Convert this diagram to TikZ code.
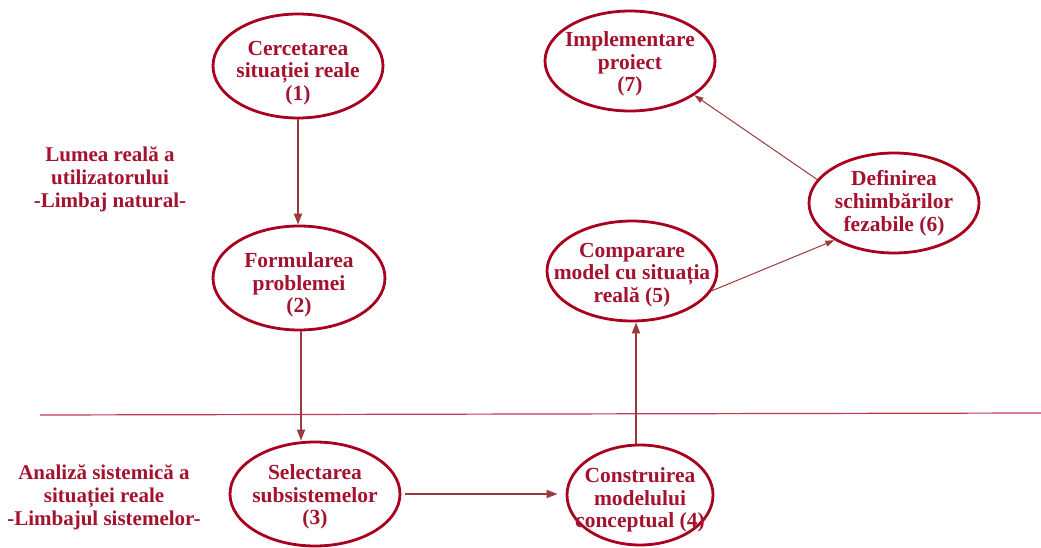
\documentclass[tikz,border=0pt]{standalone}
\usepackage{fontspec}
\setmainfont{Liberation Serif}
\usetikzlibrary{shapes.geometric,arrows.meta,positioning}
\definecolor{rosu}{HTML}{A8001E}
\definecolor{textrosu}{HTML}{A3122E}
\definecolor{sageatarosu}{HTML}{9A3A3C}
\definecolor{liniarosu}{HTML}{C23A50}
\begin{document}
\begin{tikzpicture}[x=1pt,y=-1pt,
    etapa/.style={ellipse, draw=rosu, line width=2.8pt, inner sep=0pt},
    textetapa/.style={align=center, inner sep=0pt, text=textrosu, font=\fontsize{21.5}{22.8}\selectfont\bfseries},
    eticheta/.style={align=center, text=textrosu, font=\fontsize{21}{23}\selectfont\bfseries},
    sageata/.style={draw=sageatarosu, line width=1.8pt, -{Triangle[length=11pt,width=8pt]}},
    sageatasubtire/.style={draw=sageatarosu, line width=1pt, -{Triangle[length=9pt,width=6pt]}}]
  \useasboundingbox (0,0) rectangle (1041,548);

  \node[etapa, minimum width=170pt, minimum height=104pt] (cercetare) at (298,66) {};
  \node[etapa, minimum width=172pt, minimum height=104pt] (formulare) at (299,278) {};
  \node[etapa, minimum width=170pt, minimum height=104pt] (selectare) at (315,494) {};
  \node[etapa, minimum width=146pt, minimum height=100pt] (construire) at (640,495) {};
  \node[etapa, minimum width=170pt, minimum height=100pt] (comparare) at (632,271) {};
  \node[etapa, minimum width=170pt, minimum height=100pt] (definire) at (894,203) {};
  \node[etapa, minimum width=170pt, minimum height=100pt] (implementare) at (630,61) {};

  \node[textetapa, yshift=-7pt] (cercetare-text) at (cercetare) {Cercetarea\\situației reale\\(1)};
  \node[textetapa, yshift=-7pt] (formulare-text) at (formulare) {Formularea\\problemei\\(2)};
  \node[textetapa, yshift=-3pt] (selectare-text) at (selectare) {Selectarea\\subsistemelor\\(3)};
  \node[textetapa, yshift=-5pt] (construire-text) at (construire) {Construirea\\modelului\\conceptual (4)};
  \node[textetapa, yshift=-4pt] (comparare-text) at (comparare) {Comparare\\model cu situația\\reală (5)};
  \node[textetapa] (definire-text) at (definire) {Definirea\\schimbărilor\\fezabile (6)};
  \node[textetapa, yshift=-3pt] (implementare-text) at (implementare) {Implementare\\proiect\\(7)};

  \node[eticheta] (lumea) at (110,179) {Lumea reală a\\utilizatorului\\-Limbaj natural-};
  \node[eticheta] (analiza) at (104,497) {Analiză sistemică a\\situației reale\\-Limbajul sistemelor-};

  \coordinate (linie-st) at (40,415);
  \coordinate (linie-dr) at (1041,413);
  \draw[liniarosu, line width=1.2pt] (linie-st) -- (linie-dr);

  \draw[sageata] (cercetare.south) -- (cercetare.south |- formulare.north);
  \draw[sageata] ([xshift=2pt]formulare.south) -- ([xshift=2pt]formulare.south |- selectare.north);
  \draw[sageata, shorten <=4pt, shorten >=8pt] (selectare.east) -- (selectare.east -| construire.west);
  \draw[sageata] ([xshift=-4pt]construire.north) -- ([xshift=-4pt]construire.north |- comparare.south);
  \draw[sageatasubtire] (comparare.-14) -- (definire.212);
  \draw[sageatasubtire] (definire.163) -- (implementare.-28);
\end{tikzpicture}
\end{document}
